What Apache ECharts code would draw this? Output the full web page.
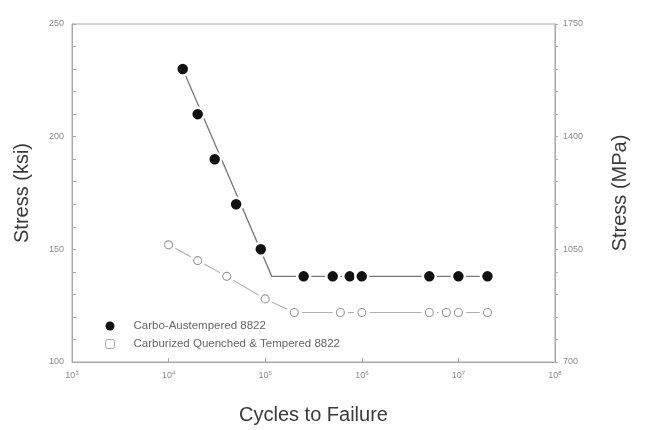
<!DOCTYPE html>
<html>
<head>
<meta charset="utf-8">
<script src="https://cdn.jsdelivr.net/npm/echarts@6/dist/echarts.min.js"></script>
<style>
  html, body { margin: 0; padding: 0; background: #fff; }
  #chart { width: 652px; height: 430px; }
</style>
</head>
<body>
<div id="chart"></div>
<script>
// S-N fatigue data for 8822 steel: [cycles to failure, stress in ksi]
const austemperedPoints = [
  [1.4e4, 230], [2.0e4, 210], [3.0e4, 190], [5.0e4, 170], [9.0e4, 150],
  [2.5e5, 138], [5.0e5, 138], [7.5e5, 138], [1.0e6, 138],
  [5.0e6, 138], [1.0e7, 138], [2.0e7, 138]
];
// fitted S-N curve through the austempered results (sloped branch + endurance limit)
const austemperedFit = [[1.4e4, 230], [1.17e5, 138], [2.0e7, 138]];

const quenchedPoints = [
  [1.0e4, 152], [2.0e4, 145], [4.0e4, 138], [1.0e5, 128], [2.0e5, 122],
  [6.0e5, 122], [1.0e6, 122], [5.0e6, 122], [7.5e6, 122], [1.0e7, 122], [2.0e7, 122]
];

const seriesNames = ['Carbo-Austempered 8822', 'Carburized Quenched & Tempered 8822'];
const ksiRange = [100, 250];
const mpaRange = [700, 1750];
const cycleRange = [1e3, 1e8];

const FONT = '"Liberation Sans", Arial, sans-serif';
const tickColor = '#8a8a8a';
const axisColor = '#a8a8a8';
const titleColor = '#3a3a3a';

const chart = echarts.init(document.getElementById('chart'), null, { renderer: 'canvas' });

const axisTitle = { color: titleColor, fontSize: 20, fontFamily: FONT };

chart.setOption({
  animation: false,
  backgroundColor: '#fff',
  grid: {
    left: 72, right: 97, top: 24, bottom: 68,
    show: true, borderColor: axisColor, borderWidth: 1
  },
  legend: {
    orient: 'vertical',
    left: 100, top: 315,
    itemWidth: 9, itemHeight: 9, itemGap: 6,
    textStyle: { color: '#666', fontSize: 11.5, fontFamily: FONT, padding: [0, 0, 0, 14] },
    data: [
      { name: seriesNames[0], icon: 'circle', itemStyle: { color: '#111', borderWidth: 0, opacity: 1 } },
      { name: seriesNames[1], icon: 'roundRect',
        itemStyle: { color: '#fff', borderColor: '#aaa', borderWidth: 1, opacity: 1 } }
    ]
  },
  xAxis: {
    type: 'log', logBase: 10,
    min: cycleRange[0], max: cycleRange[1],
    name: 'Cycles to Failure', nameLocation: 'middle', nameGap: 43,
    nameTextStyle: axisTitle,
    axisLine: { show: true, lineStyle: { color: axisColor, width: 1 } },
    axisTick: { show: true, inside: true, length: 4, lineStyle: { color: axisColor } },
    splitLine: { show: false },
    minorTick: { show: false },
    axisLabel: {
      margin: 8,
      formatter: v => '{b|10}{s|' + Math.round(Math.log10(v)) + '}',
      rich: {
        b: { fontSize: 9, color: tickColor, fontFamily: FONT },
        s: { fontSize: 6, color: tickColor, fontFamily: FONT, verticalAlign: 'top', padding: [0, 0, 5, 0] }
      }
    }
  },
  yAxis: [
    {
      type: 'value', min: ksiRange[0], max: ksiRange[1], interval: 10,
      name: 'Stress (ksi)', nameLocation: 'middle', nameGap: 40,
      nameTextStyle: axisTitle,
      axisLine: { show: true, lineStyle: { color: axisColor, width: 1 } },
      axisTick: { show: true, inside: true, length: 4, lineStyle: { color: axisColor } },
      splitLine: { show: false },
      axisLabel: {
        color: tickColor, fontSize: 9, fontFamily: FONT, margin: 8,
        formatter: v => (v % 50 === 0 ? String(v) : '')
      }
    },
    {
      type: 'value', min: mpaRange[0], max: mpaRange[1], interval: 70,
      position: 'right',
      name: 'Stress (MPa)', nameLocation: 'middle', nameGap: 55,
      nameTextStyle: axisTitle,
      axisLine: { show: true, lineStyle: { color: axisColor, width: 1 } },
      axisTick: { show: true, inside: false, length: 3, lineStyle: { color: axisColor } },
      splitLine: { show: false },
      axisLabel: {
        color: tickColor, fontSize: 9, fontFamily: FONT, margin: 8,
        formatter: v => (v % 350 === 0 ? String(v) : '')
      }
    }
  ],
  series: [
    {
      name: 'austempered fit', type: 'line', data: austemperedFit,
      symbol: 'none', silent: true, z: 2,
      lineStyle: { color: '#7a7a7a', width: 1.3 }
    },
    {
      name: seriesNames[0], type: 'scatter', data: austemperedPoints,
      symbol: 'circle', symbolSize: 13, z: 4,
      itemStyle: { color: '#111', borderColor: '#fff', borderWidth: 2.5, opacity: 1 }
    },
    {
      name: 'quenched curve', type: 'line', data: quenchedPoints,
      symbol: 'none', silent: true, z: 2,
      lineStyle: { color: '#b0b0b0', width: 1.1 }
    },
    {
      name: seriesNames[1], type: 'scatter', data: quenchedPoints,
      symbol: 'circle', symbolSize: 13, z: 4,
      itemStyle: { color: '#fff', borderColor: '#fff', borderWidth: 2.5, opacity: 1 }
    },
    {
      name: seriesNames[1], type: 'scatter', data: quenchedPoints,
      symbol: 'circle', symbolSize: 8, z: 5,
      itemStyle: { color: '#fff', borderColor: '#9a9a9a', borderWidth: 1.1, opacity: 1 }
    }
  ]
});
</script>
</body>
</html>
